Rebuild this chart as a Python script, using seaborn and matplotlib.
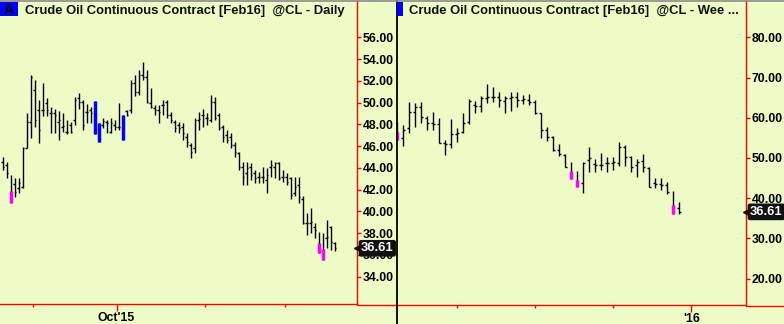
import matplotlib
matplotlib.use('Agg')
import matplotlib.pyplot as plt
import matplotlib.transforms as mtransforms
from matplotlib.lines import Line2D
from matplotlib.patches import Rectangle
import seaborn as sns
import numpy as np

# ---------------- DATA ----------------
# Daily bars (Feb16 crude oil), mid-Aug .. mid-Dec 2015
daily_open = [44.57, 44.26, 43.00, 42.52, 42.12, 42.27, 45.80, 48.25, 51.16, 49.32,
              49.32, 49.93, 49.07, 49.01, 48.25, 47.79, 47.33, 47.94, 48.40, 50.39,
              50.08, 49.16, 49.32, 49.80, 47.50, 47.94, 48.25, 47.33, 47.94, 47.79,
              47.00, 49.20, 49.32, 51.77, 51.00, 52.53, 52.38, 49.93, 49.47, 49.32,
              49.78, 50.08, 48.86, 48.25, 47.94, 47.79, 46.87, 46.10, 45.80, 48.40,
              48.86, 48.55, 48.40, 50.08, 48.86, 47.79, 47.02, 46.87, 46.10, 45.34,
              44.11, 43.50, 44.11, 43.50, 43.19, 43.19, 42.88, 44.11, 44.11, 44.42,
              43.19, 43.19, 43.04, 41.66, 42.42, 41.11, 38.90, 38.90, 38.59, 37.83,
              36.80, 37.52, 38.60, 37.06]
daily_high = [44.97, 44.57, 43.34, 43.04, 43.04, 45.95, 49.01, 52.53, 52.07, 50.24,
              51.77, 50.39, 49.56, 49.38, 49.23, 49.01, 48.40, 48.25, 50.54, 50.91,
              50.24, 49.87, 49.62, 50.14, 48.12, 48.55, 48.40, 48.55, 48.40, 49.93,
              48.86, 49.32, 52.07, 52.53, 52.99, 53.76, 52.99, 51.31, 49.78, 49.78,
              50.24, 50.24, 49.16, 48.40, 48.25, 48.09, 47.17, 46.25, 48.55, 49.16,
              49.38, 49.01, 50.70, 50.54, 49.01, 47.94, 47.48, 47.17, 46.41, 45.49,
              44.57, 44.57, 44.42, 43.80, 43.65, 44.11, 43.96, 44.72, 44.57, 44.57,
              43.80, 43.50, 43.19, 43.19, 43.19, 41.41, 39.82, 40.28, 38.90, 38.13,
              37.98, 39.20, 38.66, 37.22]
daily_low = [43.80, 43.04, 40.77, 41.35, 41.66, 42.12, 45.80, 46.71, 47.79, 46.31,
             48.77, 48.77, 47.23, 47.17, 46.56, 47.33, 47.11, 47.17, 47.94, 49.44,
             47.48, 48.09, 48.09, 47.11, 46.41, 47.63, 47.17, 47.17, 47.48, 47.48,
             46.56, 48.80, 49.01, 50.60, 50.70, 52.07, 49.93, 49.47, 48.86, 48.09,
             48.86, 48.55, 48.09, 47.33, 47.17, 46.56, 45.95, 44.88, 45.34, 47.48,
             47.79, 47.94, 48.25, 48.40, 47.48, 46.41, 46.25, 45.80, 45.03, 43.80,
             42.42, 42.42, 42.88, 42.58, 42.58, 42.58, 41.66, 43.19, 43.04, 42.88,
             42.73, 42.42, 41.11, 41.41, 40.80, 38.81, 37.83, 37.98, 37.52, 36.20,
             35.53, 36.60, 36.45, 36.39]
daily_close = [44.11, 43.56, 41.50, 41.75, 42.60, 45.80, 48.25, 52.38, 48.40, 47.48,
               49.32, 49.32, 49.07, 48.86, 48.40, 47.85, 47.33, 47.33, 50.24, 50.08,
               47.94, 49.16, 49.01, 47.40, 47.90, 48.34, 48.09, 48.09, 47.72, 47.79,
               48.60, 48.90, 51.77, 51.00, 52.53, 52.38, 50.08, 49.62, 49.32, 49.16,
               49.78, 48.86, 48.40, 47.63, 47.63, 47.17, 46.41, 45.49, 48.40, 48.46,
               48.86, 48.55, 50.08, 48.55, 47.63, 46.87, 46.56, 46.10, 45.49, 44.11,
               43.19, 43.96, 43.34, 43.04, 43.19, 43.19, 43.34, 44.26, 44.42, 43.04,
               43.19, 42.73, 41.50, 42.27, 41.35, 38.90, 38.90, 39.05, 38.29, 36.60,
               37.50, 37.67, 37.20, 36.61]
daily_paint_idx = [2, 23, 24, 30, 79, 80]
daily_paint_top = [41.87, 50.14, 48.12, 48.86, 37.12, 36.54]
daily_paint_bot = [40.77, 47.11, 46.41, 46.56, 36.20, 35.53]
daily_paint_col = ['#FF00FF', '#0000FF', '#0000FF', '#0000FF', '#FF00FF', '#FF00FF']
daily_month_start_idx = [8, 29, 51, 71]
daily_month_labels = ['', "Oct'15", '', '']
daily_yticks = [34, 36, 38, 40, 42, 44, 46, 48, 50, 52, 54, 56]

# Weekly bars, Jan .. Dec 2015
weekly_open = [57.78, 54.88, 57.37, 61.51, 62.59, 59.85, 58.61, 58.45, 53.81, 53.48,
               55.96, 56.54, 59.03, 63.17, 62.92, 64.83, 65.24, 65.24, 64.25, 64.83,
               65.24, 64.41, 64.41, 64.00, 61.10, 56.95, 55.13, 51.98, 50.74, 47.84,
               45.36, 43.70, 49.50, 48.50, 48.26, 48.67, 48.84, 48.67, 52.81, 50.33,
               48.26, 49.33, 47.43, 43.70, 43.53, 43.28, 41.63, 37.50]
weekly_high = [59.03, 58.20, 64.00, 63.75, 64.00, 60.43, 61.51, 59.85, 54.47, 59.61,
               57.37, 61.10, 64.58, 64.25, 65.49, 68.39, 67.56, 66.48, 65.41, 66.48,
               66.48, 65.65, 65.90, 64.41, 61.10, 57.78, 55.46, 53.48, 50.99, 49.08,
               46.85, 49.08, 52.65, 49.66, 51.16, 50.16, 50.16, 53.97, 53.23, 50.49,
               49.66, 50.99, 47.84, 44.94, 44.94, 44.11, 41.88, 39.14]
weekly_low = [54.47, 52.98, 56.29, 57.62, 58.78, 56.95, 56.95, 53.64, 50.74, 52.40,
              54.06, 56.29, 58.45, 61.26, 61.51, 63.75, 64.00, 62.59, 61.10, 61.68,
              62.59, 63.42, 63.17, 60.93, 54.88, 54.30, 51.82, 50.49, 47.68, 44.78,
              42.87, 41.21, 46.60, 46.60, 47.01, 46.60, 47.01, 48.00, 48.00, 46.60,
              45.19, 46.60, 42.70, 42.46, 42.04, 41.05, 36.08, 36.08]
weekly_close = [56.95, 56.95, 61.51, 62.59, 60.10, 58.61, 58.45, 53.81, 53.48, 55.96,
                56.13, 58.78, 64.25, 62.92, 64.83, 65.07, 65.24, 64.41, 64.83, 65.24,
                64.41, 64.58, 64.00, 61.10, 56.95, 55.13, 51.98, 50.99, 47.84, 45.36,
                43.70, 48.67, 49.91, 48.26, 48.26, 48.67, 49.08, 52.81, 50.33, 47.84,
                49.08, 47.84, 42.87, 43.53, 43.28, 41.63, 37.07, 36.61]
weekly_paint_idx = [0, 29, 30, 46]
weekly_paint_top = [56.54, 46.85, 44.53, 38.31]
weekly_paint_bot = [54.47, 44.78, 42.87, 36.08]
weekly_paint_col = ['#FF00FF', '#FF00FF', '#FF00FF', '#FF00FF']
weekly_quarter_idx = [10, 23, 36, 49]
weekly_quarter_labels = ['', '', '', "'16"]
weekly_yticks = [20, 30, 40, 50, 60, 70, 80]

last_price = 36.61
title_daily = "Crude Oil Continuous Contract [Feb16]  @CL - Daily"
title_weekly = "Crude Oil Continuous Contract [Feb16]  @CL - Wee ..."

# ---------------- STYLE ----------------
sns.set_theme(style='white')
plt.rcParams['font.family'] = ['Liberation Sans', 'DejaVu Sans']
plt.rcParams['font.weight'] = 'bold'

BG = '#EDFCC6'
RED = '#FF0000'
W, H = 784, 324
FS = 8.8

fig = plt.figure(figsize=(W / 100, H / 100), dpi=100, facecolor=BG)


def px_axes(x0, y0, x1, y1):
    return fig.add_axes([x0 / W, 1 - y1 / H, (x1 - x0) / W, (y1 - y0) / H])


def draw_ohlc(ax, o, h, l, c, tick, pidx, ptop, pbot, pcol):
    n = len(o)
    x = np.arange(n)
    ax.vlines(x, l, h, color='black', lw=1.0, zorder=2)
    keep = np.array([i for i in range(n) if i not in set(pidx)])
    ax.hlines(np.array(o)[keep], keep - tick, keep, color='black', lw=1.0, zorder=2)
    ax.hlines(np.array(c)[keep], keep, keep + tick, color='black', lw=1.0, zorder=2)
    ax.vlines(pidx, pbot, ptop, colors=pcol, lw=2.5, zorder=3)


def style_axes(ax, yticks, ylim, xlim, major_pos, major_lab, minor_pos):
    ax.set_facecolor(BG)
    ax.set_xlim(*xlim)
    ax.set_ylim(*ylim)
    ax.yaxis.tick_right()
    ax.set_yticks(yticks)
    ax.set_yticklabels([f'{v:.2f}' for v in yticks])
    ax.set_xticks(major_pos)
    ax.set_xticklabels(major_lab)
    ax.set_xticks(minor_pos, minor=True)
    for s in ['top', 'left']:
        ax.spines[s].set_visible(False)
    for s in ['right', 'bottom']:
        ax.spines[s].set_color(RED)
        ax.spines[s].set_linewidth(1.0)
    ax.tick_params(axis='y', which='both', right=True, left=False, colors=RED,
                   labelcolor='black', length=3, width=1, pad=1, labelsize=FS)
    ax.tick_params(axis='x', which='major', bottom=True, colors=RED, labelcolor='black',
                   length=4.8, width=1, pad=1.0, labelsize=FS)
    ax.tick_params(axis='x', which='minor', bottom=True, colors=RED, length=2, width=1)
    ax.grid(False)
    for t in ax.get_yticklabels() + ax.get_xticklabels():
        t.set_fontweight('bold')


def price_tag(ax, price):
    tr = mtransforms.blended_transform_factory(ax.transAxes, ax.transData)
    ax.plot([1.0], [price], marker='<', color='#111111', markersize=5,
            transform=tr, clip_on=False, zorder=6)
    ax.annotate(f'{price:.2f}', xy=(1.0, price), xycoords=tr, xytext=(4, 0),
                textcoords='offset pixels', ha='left', va='center', color='white',
                fontsize=FS + 0.6, fontweight='bold', annotation_clip=False, zorder=7,
                bbox=dict(boxstyle='round,pad=0.18', fc='#111111', ec='none'))


# ---------------- LEFT: DAILY ----------------
ax1 = px_axes(0, 0, 357, 304)
draw_ohlc(ax1, daily_open, daily_high, daily_low, daily_close, 0.45,
          daily_paint_idx, daily_paint_top, daily_paint_bot, daily_paint_col)
d_major = [i - 0.5 for i, lab in zip(daily_month_start_idx, daily_month_labels) if lab]
d_lab = [lab for lab in daily_month_labels if lab]
d_minor = [i - 0.5 for i, lab in zip(daily_month_start_idx, daily_month_labels) if not lab]
style_axes(ax1, daily_yticks, (31.49, 59.43), (-0.625, 88.625), d_major, d_lab, d_minor)
price_tag(ax1, last_price)

# ---------------- RIGHT: WEEKLY ----------------
ax2 = px_axes(396, 0, 746, 305)
draw_ohlc(ax2, weekly_open, weekly_high, weekly_low, weekly_close, 0.36,
          weekly_paint_idx, weekly_paint_top, weekly_paint_bot, weekly_paint_col)
w_major = [i for i, lab in zip(weekly_quarter_idx, weekly_quarter_labels) if lab]
w_lab = [lab for lab in weekly_quarter_labels if lab]
w_minor = [i for i, lab in zip(weekly_quarter_idx, weekly_quarter_labels) if not lab]
style_axes(ax2, weekly_yticks, (13.46, 89.27), (-0.217, 58.12), w_major, w_lab, w_minor)
price_tag(ax2, last_price)

# ---------------- FRAME DECORATIONS ----------------
def fig_line(x0, y0, x1, y1, color, lw):
    fig.add_artist(Line2D([x0 / W, x1 / W], [1 - y0 / H, 1 - y1 / H],
                          transform=fig.transFigure, color=color, lw=lw, zorder=5))

fig_line(357, 304.5, 396, 304.5, RED, 1.0)
fig_line(746, 305.5, 784, 305.5, RED, 1.0)
fig_line(396.8, 0, 396.8, 324, 'black', 1.3)
fig_line(0, 0.5, 784, 0.5, '#8C8C8C', 1.2)

fig.add_artist(Rectangle((0, 1 - 15.5 / H), 18 / W, 13.5 / H, transform=fig.transFigure,
                         fc='#0000FF', ec='none', zorder=5))
fig.text(9 / W, 1 - 14 / H, 'A', ha='center', va='baseline', fontsize=10,
         fontweight='bold', color='black', zorder=6)
fig.add_artist(Rectangle((397.5 / W, 1 - 15.5 / H), 5.5 / W, 13.5 / H,
                         transform=fig.transFigure, fc='#0000FF', ec='none', zorder=5))
fig.text(25 / W, 1 - 14.3 / H, title_daily, ha='left', va='baseline', fontsize=9.4,
         fontweight='bold', color='#111111', zorder=6)
fig.text(409 / W, 1 - 14.3 / H, title_weekly, ha='left', va='baseline', fontsize=9.4,
         fontweight='bold', color='#111111', zorder=6)

fig.savefig('out.png', dpi=100, facecolor=BG)
